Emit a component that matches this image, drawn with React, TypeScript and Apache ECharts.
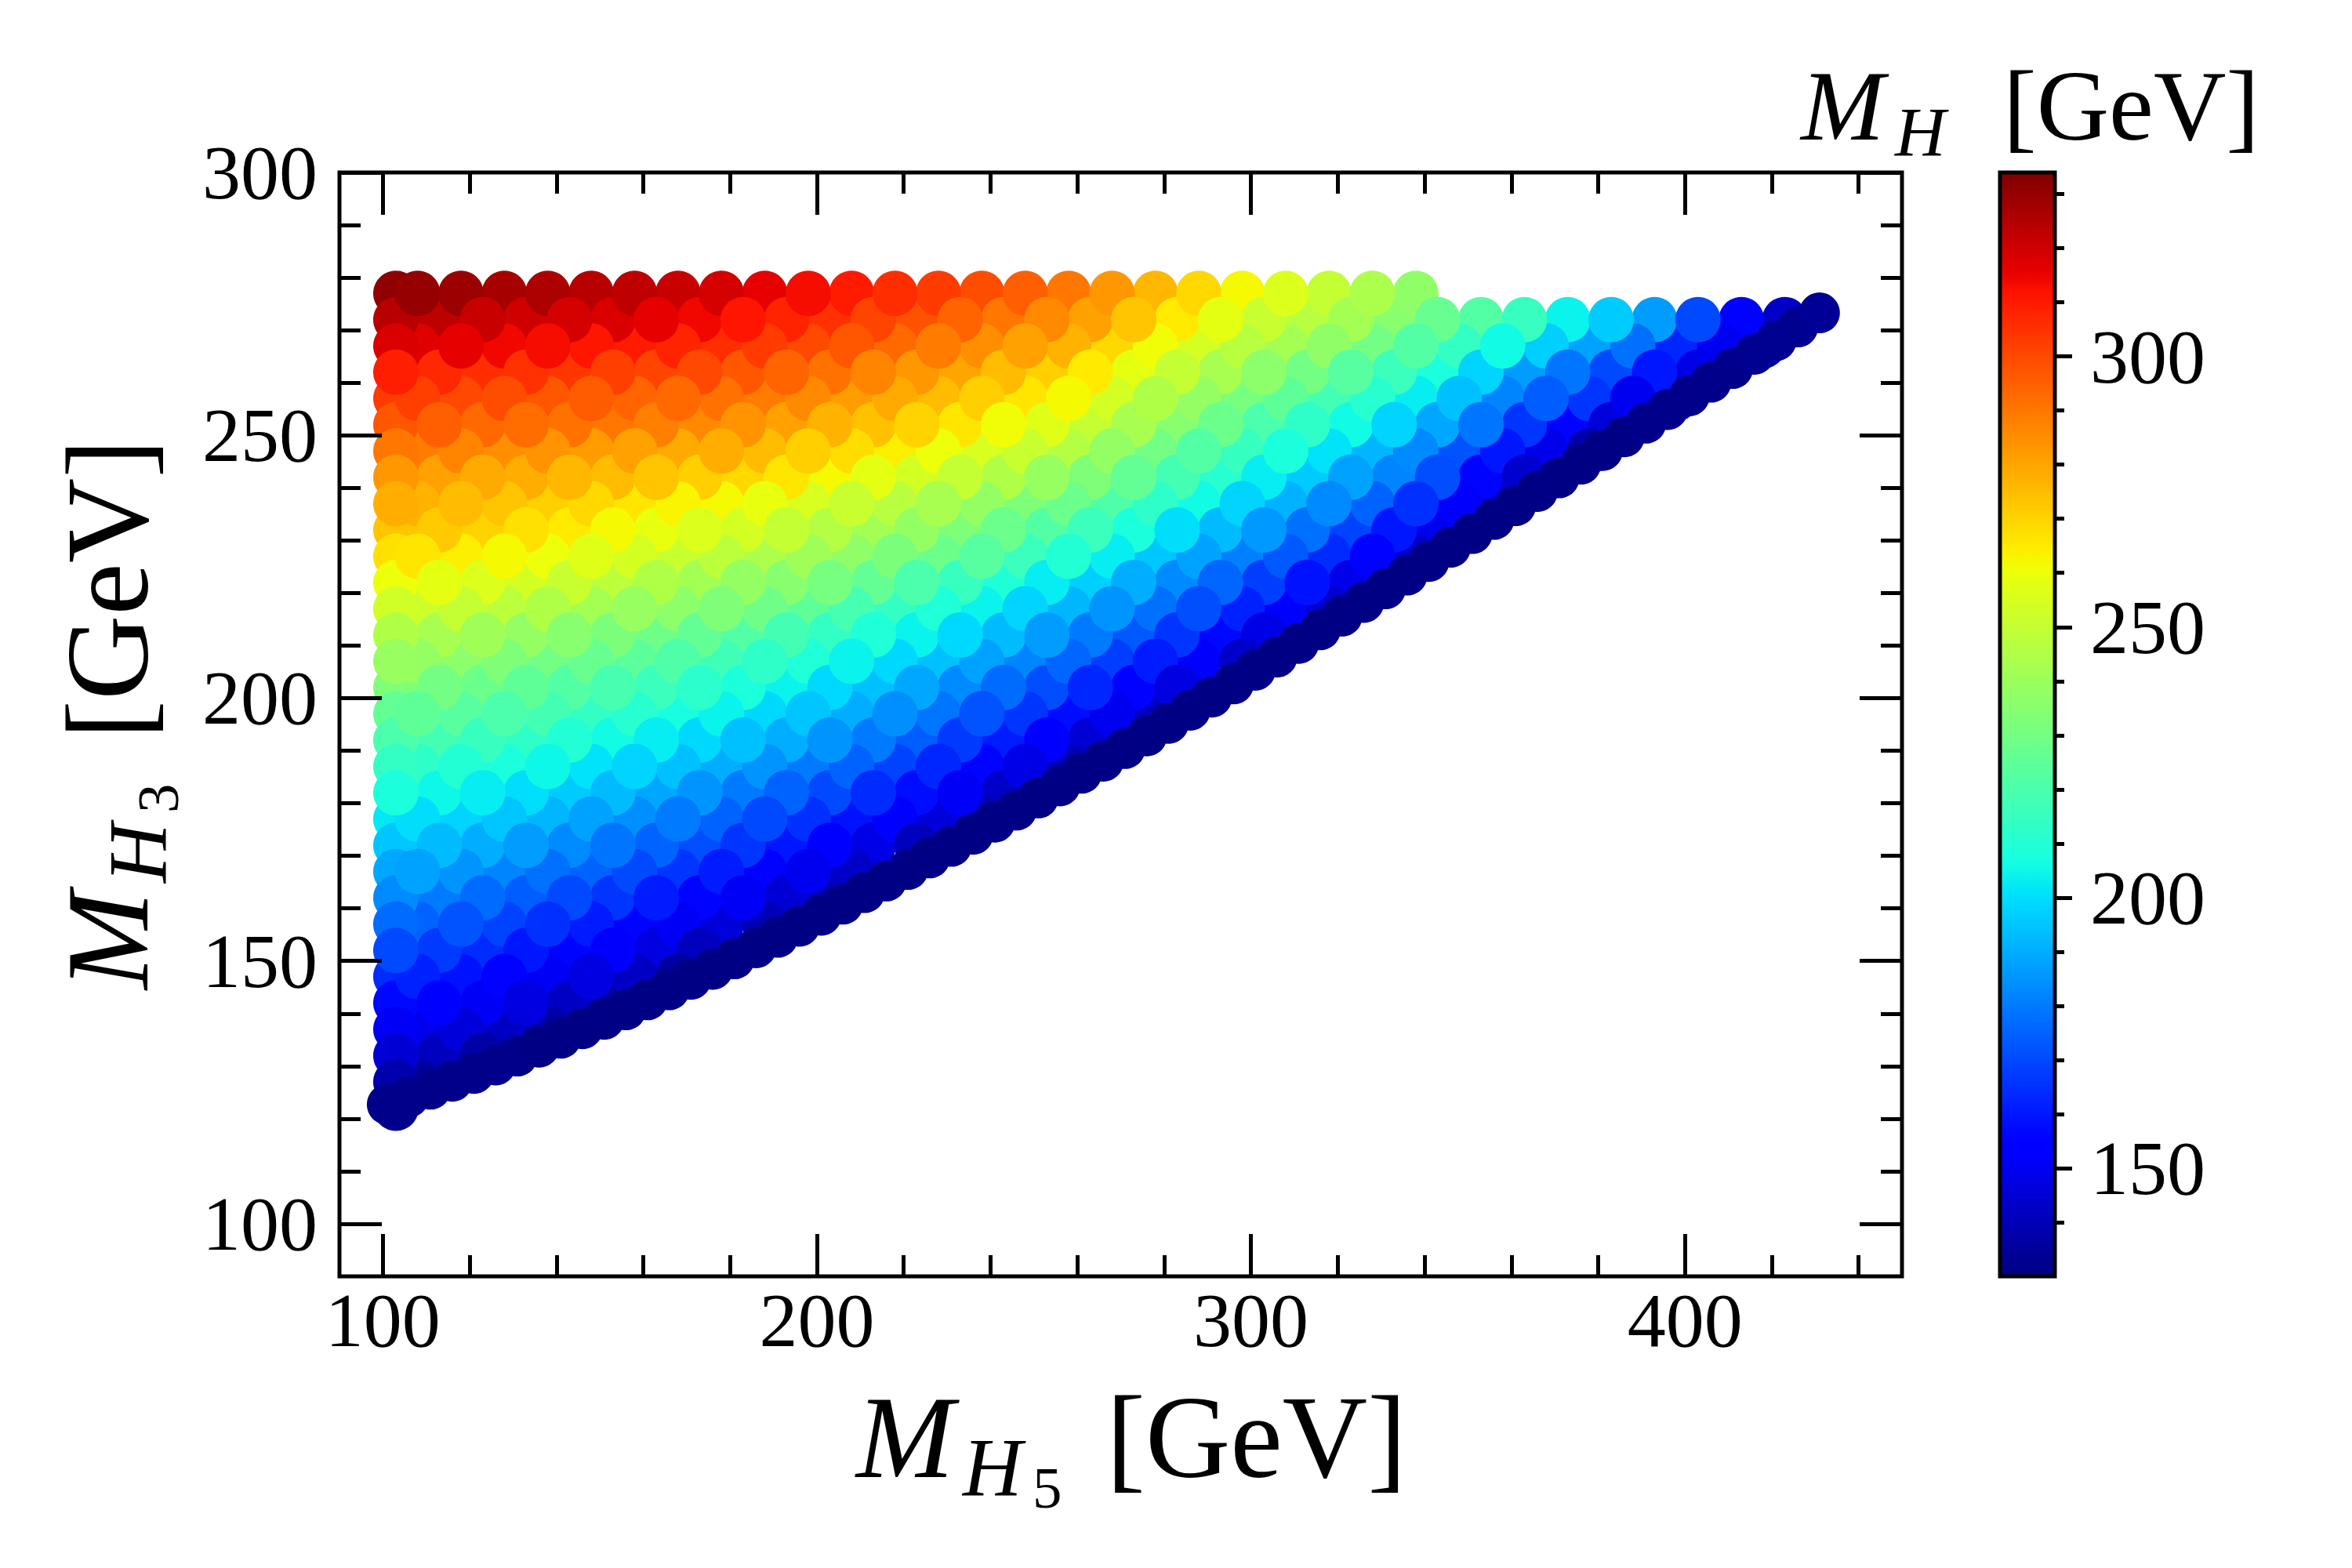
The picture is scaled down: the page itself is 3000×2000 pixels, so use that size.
import React, { useEffect, useRef } from "react";
import * as echarts from "echarts";

// ---------- axis ticks ----------
const X_MAJOR = [100, 200, 300, 400];
const X_MINOR = [120, 140, 160, 180, 220, 240, 260, 280, 320, 340, 360, 380, 420, 440];
const Y_MAJOR = [100, 150, 200, 250, 300];
const Y_MINOR = [110, 120, 130, 140, 160, 170, 180, 190, 210, 220, 230, 240, 260, 270, 280, 290];
const CB_MAJOR = [150, 200, 250, 300];
const CB_MINOR = [140, 160, 170, 180, 190, 210, 220, 230, 240, 260, 270, 280, 290, 310, 320, 330];
const X_MIN = 90, X_MAX = 450, Y_MIN = 90, Y_MAX = 300;
const CB_MIN = 130, CB_MAX = 334;

// ---------- data: M_H (colour) sampled on rows of M_H3; M_H5 = 103, 113, ... (odd rows offset by 5) ----------
const M5_FIRST = 103;
const M5_STEP = 10;
const M3_ROWS = [122, 127, 132, 137, 142, 147, 152, 157, 162, 167, 172, 177, 182, 187, 192, 197,
  202, 207, 212, 217, 222, 227, 232, 237, 242, 247, 252, 257, 262, 267, 272, 277];

const MH_122 = [132];
const MH_127 = [138, 136];
const MH_132 = [145, 141, 137];
const MH_137 = [151, 149, 146, 142, 137];
const MH_142 = [157, 154, 151, 147, 142, 137];
const MH_147 = [164, 162, 159, 155, 151, 147, 142, 136];
const MH_152 = [170, 167, 164, 160, 156, 152, 147, 141];
const MH_157 = [177, 175, 172, 169, 165, 161, 156, 151, 146, 140];
const MH_162 = [183, 180, 177, 174, 170, 166, 161, 156, 151, 145, 138];
const MH_167 = [189, 188, 185, 182, 178, 175, 170, 166, 161, 155, 150, 143];
const MH_172 = [195, 193, 190, 187, 183, 179, 175, 171, 166, 160, 154, 148, 141];
const MH_177 = [202, 200, 198, 195, 192, 188, 184, 180, 175, 170, 165, 159, 153, 146, 138];
const MH_182 = [208, 205, 203, 200, 196, 193, 189, 185, 180, 175, 170, 164, 158, 151, 143];
const MH_187 = [214, 213, 210, 208, 205, 201, 198, 194, 190, 185, 180, 175, 169, 163, 156, 148, 140];
const MH_192 = [220, 218, 215, 213, 210, 206, 203, 199, 194, 190, 185, 180, 174, 167, 161, 153, 145];
const MH_197 = [226, 225, 223, 220, 218, 214, 211, 207, 204, 199, 195, 190, 184, 179, 172, 166, 158, 150, 142];
const MH_202 = [233, 230, 228, 225, 222, 219, 216, 212, 208, 204, 199, 194, 189, 183, 177, 171, 163, 155, 147];
const MH_207 = [239, 238, 236, 233, 230, 227, 224, 221, 217, 213, 209, 204, 199, 194, 188, 182, 176, 168, 161, 152, 143];
const MH_212 = [245, 243, 241, 238, 235, 232, 229, 226, 222, 218, 214, 209, 204, 199, 193, 187, 180, 173, 166, 157, 148];
const MH_217 = [253, 252, 250, 248, 245, 242, 239, 236, 233, 229, 225, 219, 214, 209, 204, 198, 192, 185, 178, 171, 162, 154, 144];
const MH_222 = [260, 258, 256, 254, 251, 248, 245, 242, 238, 235, 231, 226, 220, 215, 209, 203, 197, 190, 183, 176, 168, 159, 149];
const MH_227 = [267, 266, 264, 262, 260, 257, 254, 251, 248, 244, 241, 237, 232, 228, 223, 216, 210, 203, 195, 188, 181, 173, 164, 155, 144];
const MH_232 = [273, 272, 270, 267, 265, 262, 259, 256, 254, 250, 246, 242, 238, 233, 228, 222, 216, 208, 200, 193, 186, 178, 169, 160, 150];
const MH_237 = [278, 277, 275, 273, 271, 269, 266, 263, 262, 259, 255, 251, 247, 243, 238, 233, 228, 221, 213, 206, 198, 191, 183, 175, 165, 152, 140];
const MH_242 = [283, 281, 279, 278, 276, 275, 273, 271, 269, 266, 262, 258, 254, 250, 245, 239, 233, 226, 218, 211, 203, 196, 188, 182, 171, 156, 144];
const MH_247 = [290, 289, 287, 285, 284, 282, 281, 279, 278, 275, 271, 268, 264, 260, 255, 251, 246, 238, 230, 222, 215, 208, 201, 192, 183, 172, 160, 149, 138];
const MH_252 = [297, 295, 293, 292, 291, 290, 288, 286, 284, 281, 277, 274, 270, 266, 261, 257, 250, 243, 235, 228, 220, 213, 206, 198, 189, 179, 166, 156, 146];
const MH_257 = [303, 302, 300, 299, 297, 296, 294, 293, 291, 289, 286, 282, 279, 275, 271, 266, 262, 254, 245, 238, 231, 225, 218, 211, 203, 194, 182, 174, 166, 150, 140];
const MH_262 = [309, 307, 306, 305, 304, 302, 301, 300, 297, 294, 291, 287, 283, 280, 275, 271, 265, 258, 250, 243, 236, 230, 223, 216, 208, 198, 187, 179, 170, 160, 148];
const MH_267 = [318, 317, 316, 314, 313, 311, 310, 308, 306, 303, 300, 297, 293, 289, 285, 281, 277, 269, 261, 254, 247, 242, 237, 230, 222, 214, 206, 197, 188, 178, 163, 150, 139];
const MH_272 = [324, 323, 321, 320, 319, 318, 316, 314, 311, 308, 305, 301, 298, 294, 290, 286, 281, 273, 265, 258, 251, 247, 242, 235, 227, 222, 215, 204, 196, 187, 170, 155, 143];
const MH_277 = [331, 330, 329, 327, 326, 324, 323, 321, 319, 316, 313, 310, 306, 303, 299, 295, 290, 283, 276, 269, 262, 256, 250, 244, 237];

const MH_ROWS = [MH_122, MH_127, MH_132, MH_137, MH_142, MH_147, MH_152, MH_157, MH_162, MH_167,
  MH_172, MH_177, MH_182, MH_187, MH_192, MH_197, MH_202, MH_207, MH_212, MH_217, MH_222, MH_227,
  MH_232, MH_237, MH_242, MH_247, MH_252, MH_257, MH_262, MH_267, MH_272, MH_277];

// points lying along the lower edge of the allowed region
const EDGE_M5 = [101, 106, 111, 116, 121, 126, 131, 136, 141, 146, 151, 156, 161, 166, 171, 176, 181,
  186, 191, 196, 201, 206, 211, 216, 221, 226, 231, 236, 241, 246, 251, 256, 261, 266, 271, 276, 281,
  286, 291, 296, 301, 306, 311, 316, 321, 326, 331, 336, 341, 346, 351, 356, 361, 366, 371, 376, 381,
  386, 391, 396, 401, 406, 411, 416, 421, 426, 431];
const EDGE_M3 = [122.7, 124.1, 125.6, 127.1, 128.6, 130.2, 131.9, 133.6, 135.3, 137.1, 138.9, 140.7,
  142.6, 144.5, 146.5, 148.4, 150.4, 152.5, 154.5, 156.6, 158.7, 160.8, 163.0, 165.2, 167.4, 169.6,
  171.8, 174.1, 176.4, 178.7, 181.0, 183.3, 185.7, 188.0, 190.4, 192.8, 195.2, 197.7, 200.2, 202.7,
  205.3, 207.8, 210.4, 213.0, 215.6, 218.2, 220.8, 223.4, 226.0, 228.7, 231.3, 234.0, 236.6, 239.3,
  241.9, 244.5, 247.1, 249.7, 252.3, 254.9, 257.5, 260.1, 262.7, 265.4, 268.0, 270.6, 273.3];
const EDGE_MH = [132, 132, 132, 132, 132, 132, 132, 131, 131, 131, 131, 131, 131, 131, 131, 131, 131,
  131, 131, 131, 131, 131, 131, 131, 131, 131, 131, 131, 131, 131, 131, 131, 131, 131, 131, 131, 131,
  131, 131, 131, 131, 131, 131, 131, 131, 131, 131, 131, 131, 131, 131, 131, 131, 131, 131, 131, 131,
  131, 132, 132, 132, 132, 132, 133, 133, 133, 134];

// ---------- styling ----------
const FONT = '"Liberation Serif", "DejaVu Serif", serif';
const PLOT = { left: 433, top: 220, width: 1993, height: 1408 };
const CBAR = { left: 2551, top: 220, width: 70, height: 1408 };

function seg(pts: number[][], t: number) {
  for (let i = 0; i < pts.length - 1; i++) {
    const [t0, v0] = pts[i];
    const [t1, v1] = pts[i + 1];
    if (t <= t1) return v0 + ((t - t0) / (t1 - t0)) * (v1 - v0);
  }
  return pts[pts.length - 1][1];
}
function jet(t: number) {
  const r = seg([[0, 0], [0.35, 0], [0.66, 1], [0.89, 1], [1, 0.5]], t);
  const g = seg([[0, 0], [0.125, 0], [0.375, 1], [0.64, 1], [0.91, 0], [1, 0]], t);
  const b = seg([[0, 0.5], [0.11, 1], [0.34, 1], [0.65, 0], [1, 0]], t);
  const h = (v: number) => Math.round(Math.max(0, Math.min(1, v)) * 255).toString(16).padStart(2, "0");
  return "#" + h(r) + h(g) + h(b);
}
const JET = Array.from({ length: 101 }, (_, i) => jet(i / 100));

function buildPoints() {
  const pts: { key: number; v: number[] }[] = [];
  MH_ROWS.forEach((row, r) => {
    const y = M3_ROWS[r];
    row.forEach((mh, i) => {
      let x: number;
      if (r % 2 === 0) x = M5_FIRST + i * M5_STEP;
      else x = i === 0 ? M5_FIRST : M5_FIRST + M5_STEP / 2 + (i - 1) * M5_STEP;
      // drawing order only (mixes overlaps like a scattered sample)
      pts.push({ key: (r * 31 + i * 17) % 11, v: [x, y, mh] });
    });
  });
  pts.sort((a, b) => a.key - b.key);
  return pts.map((p) => p.v);
}
function buildEdge() {
  return EDGE_M5.map((x, i) => [x, EDGE_M3[i], EDGE_MH[i]]);
}

const tickStyle = { color: "#000", width: 5 };

function xTickAxis(position: string, values: number[], length: number, labels: boolean) {
  return {
    gridIndex: 0, type: "value", min: X_MIN, max: X_MAX, position, z: 10,
    axisLine: { show: false, onZero: false },
    splitLine: { show: false },
    axisTick: { show: true, inside: true, length, customValues: values, lineStyle: tickStyle },
    axisLabel: labels
      ? { show: true, customValues: values, margin: 7, fontSize: 98, fontFamily: FONT, color: "#000" }
      : { show: false },
  };
}
function yTickAxis(position: string, values: number[], length: number, labels: boolean) {
  return {
    gridIndex: 0, type: "value", min: Y_MIN, max: Y_MAX, position, z: 10,
    axisLine: { show: false, onZero: false },
    splitLine: { show: false },
    axisTick: { show: true, inside: true, length, customValues: values, lineStyle: tickStyle },
    axisLabel: labels
      ? { show: true, customValues: values, margin: 28, fontSize: 98, fontFamily: FONT, color: "#000" }
      : { show: false },
  };
}

function titlePieces(F: number, hX: number, subX: number | null, sub: string | null, bracketX: number, s: number) {
  const mk = (text: string, x: number, baseline: number, size: number, italic: boolean) => ({
    type: "text",
    x,
    y: baseline - 0.3375 * size,
    style: {
      text,
      font: `${italic ? "italic " : ""}${size}px ${FONT}`,
      fontSize: size,
      fontFamily: FONT,
      fontStyle: italic ? "italic" : "normal",
      fill: "#000",
      align: "left",
      textAlign: "left",
      verticalAlign: "middle",
      textVerticalAlign: "middle",
    },
  });
  const items: any[] = [
    mk("M", 0, 0, F, true),
    mk("H", hX, 23 * s, F * 0.7, true),
  ];
  if (sub && subX !== null) items.push(mk(sub, subX, 39 * s, F * 0.5, false));
  items.push(mk("[GeV]", bracketX, 0, F, false));
  return items;
}

export default function App() {
  const ref = useRef<HTMLDivElement>(null);
  useEffect(() => {
    if (!ref.current) return;
    const chart = echarts.init(ref.current, null, { renderer: "svg", width: 3000, height: 2000 });
    const stops = JET.map((c, i) => ({ offset: i / (JET.length - 1), color: c }));
    const option: any = {
      animation: false,
      backgroundColor: "#ffffff",
      textStyle: { fontFamily: FONT },
      grid: [
        { ...PLOT, show: true, borderColor: "#000", borderWidth: 5, backgroundColor: "transparent", containLabel: false },
        { ...CBAR, show: false, containLabel: false },
      ],
      xAxis: [
        xTickAxis("bottom", X_MAJOR, 54, true),
        xTickAxis("bottom", X_MINOR, 27, false),
        xTickAxis("top", X_MAJOR, 54, false),
        xTickAxis("top", X_MINOR, 27, false),
        { gridIndex: 1, type: "value", min: 0, max: 1, show: false },
      ],
      yAxis: [
        yTickAxis("left", Y_MAJOR, 54, true),
        yTickAxis("left", Y_MINOR, 27, false),
        yTickAxis("right", Y_MAJOR, 54, false),
        yTickAxis("right", Y_MINOR, 27, false),
        {
          gridIndex: 1, type: "value", min: CB_MIN, max: CB_MAX, position: "right", z: 10,
          axisLine: { show: false, onZero: false }, splitLine: { show: false },
          axisTick: { show: true, inside: false, length: 22, customValues: CB_MAJOR, lineStyle: tickStyle },
          axisLabel: { show: true, customValues: CB_MAJOR, margin: 45, fontSize: 98, fontFamily: FONT, color: "#000" },
        },
        {
          gridIndex: 1, type: "value", min: CB_MIN, max: CB_MAX, position: "right", z: 10,
          axisLine: { show: false, onZero: false }, splitLine: { show: false },
          axisTick: { show: true, inside: false, length: 12, customValues: CB_MINOR, lineStyle: tickStyle },
          axisLabel: { show: false },
        },
      ],
      visualMap: {
        type: "continuous", show: false, min: CB_MIN, max: CB_MAX, dimension: 2, seriesIndex: [0, 1],
        inRange: { color: JET },
      },
      series: [
        {
          type: "scatter", xAxisIndex: 0, yAxisIndex: 0, data: buildPoints(),
          symbol: "circle", symbolSize: 58, silent: true, z: 2,
          itemStyle: { opacity: 1 }, emphasis: { disabled: true },
        },
        {
          type: "scatter", xAxisIndex: 0, yAxisIndex: 0, data: buildEdge(),
          symbol: "circle", symbolSize: 52, silent: true, z: 3,
          itemStyle: { opacity: 1 }, emphasis: { disabled: true },
        },
      ],
      graphic: [
        {
          type: "rect", z: 5,
          shape: { x: CBAR.left, y: CBAR.top, width: CBAR.width, height: CBAR.height },
          style: {
            fill: new echarts.graphic.LinearGradient(0, 1, 0, 0, stops),
            stroke: "#000", lineWidth: 5,
          },
        },
        { type: "group", x: 1092, y: 1884, children: titlePieces(150, 136, 225, "5", 319, 1) },
        { type: "group", x: 188, y: 1262, rotation: Math.PI / 2, children: titlePieces(150, 136, 225, "3", 319, 1) },
        { type: "group", x: 2297, y: 178, children: titlePieces(128, 120, null, null, 258, 0.853) },
      ],
    };
    chart.setOption(option);
    return () => chart.dispose();
  }, []);
  return (
    <div
      ref={ref}
      style={{ position: "absolute", left: 0, top: 0, width: 3000, height: 2000, background: "#fff" }}
    />
  );
}
